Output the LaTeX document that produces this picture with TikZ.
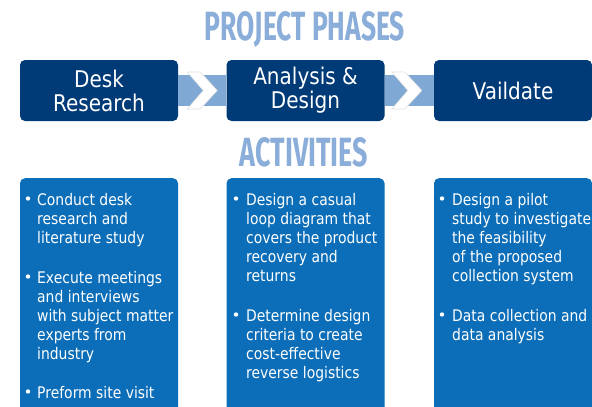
\documentclass[tikz,border=0pt]{standalone}
\usepackage{fontspec}
\usepackage{graphicx}
\setmainfont[FakeStretch=0.87]{DejaVu Sans}
\newfontfamily\titlefont{Fira Sans}
\definecolor{navy}{HTML}{003B78}
\definecolor{actblue}{HTML}{0C6EB8}
\definecolor{lightblue}{HTML}{8AAED9}
\definecolor{bandblue}{HTML}{80A8D5}
\tikzset{
  phase/.style={rectangle, rounded corners=5pt, fill=navy, text=white, minimum width=158pt, minimum height=61pt, inner sep=0pt, align=center, font=\fontsize{23}{24}\selectfont},
  actbox/.style={rectangle, rounded corners=5pt, fill=actblue, minimum width=158pt, minimum height=260pt, inner sep=0pt, anchor=north},
  titletext/.style={text=lightblue, inner sep=0pt, font=\titlefont\bfseries},
  band/.style={draw=bandblue, line width=31pt},
  chev/.style={fill=white, draw=black!12, line width=0.6pt, line join=miter},
  item/.style={anchor=base west, inner sep=0pt, align=left, text=white, font=\fontsize{16}{19}\selectfont},
  dot/.style={fill=white}
}
\begin{document}
\begin{tikzpicture}[x=1pt,y=-1pt]
\useasboundingbox (0,0) rectangle (592,407);
\clip (0,0) rectangle (592,407);
% titles
\node[titletext] (t1) at (305,29.5) {\resizebox{200pt}{29pt}{PROJECT PHASES}};
\node[titletext] (t2) at (304,152) {\resizebox{128pt}{29pt}{ACTIVITIES}};
% phases
\node[phase] (p1) at (99,90.5) {Desk\\Research};
\node[phase] (p2) at (305.5,90.5) {Analysis \&\\Design};
\node[phase] (p3) at (513,90.5) {Vaildate};
% connectors
\draw[band] (p1.east) -- (p2.west) coordinate[pos=0.5] (m1);
\draw[band] (p2.east) -- (p3.west) coordinate[pos=0.45] (m2);
\filldraw[chev] (m1) ++(-15,-18.5) -- ++(13,0) -- ++(17,18.5) -- ++(-17,18.5) -- ++(-13,0) -- ++(16,-18.5) -- cycle;
\filldraw[chev] (m2) ++(-15,-18.5) -- ++(13,0) -- ++(17,18.5) -- ++(-17,18.5) -- ++(-13,0) -- ++(16,-18.5) -- cycle;
% activity boxes
\node[actbox] (a1) at (99,178) {};
\node[actbox] (a2) at (305.5,178) {};
\node[actbox] (a3) at (513,178) {};
% box 1 (node placed at the baseline of its last line)
\fill[dot] (28,198.5) circle (2.2);
\node[item] (i11) at (37,243) {Conduct desk\\research and\\literature study};
\fill[dot] (28,276.5) circle (2.2);
\node[item] (i12) at (37,359) {Execute meetings\\and interviews\\with subject matter\\experts from\\industry};
\fill[dot] (28,391.5) circle (2.2);
\node[item] (i13) at (37,398) {Preform site visit};
% box 2
\fill[dot] (236,198.5) circle (2.2);
\node[item] (i21) at (246,281) {Design a casual\\loop diagram that\\covers the product\\recovery and\\returns};
\fill[dot] (236,314.5) circle (2.2);
\node[item] (i22) at (246,378) {Determine design\\criteria to create\\cost-effective\\reverse logistics};
% box 3
\fill[dot] (442,198.5) circle (2.2);
\node[item] (i31) at (452,281) {Design a pilot\\study to investigate\\the feasibility\\of the proposed\\collection system};
\fill[dot] (442,314.5) circle (2.2);
\node[item] (i32) at (452,340) {Data collection and\\data analysis};
\end{tikzpicture}
\end{document}
